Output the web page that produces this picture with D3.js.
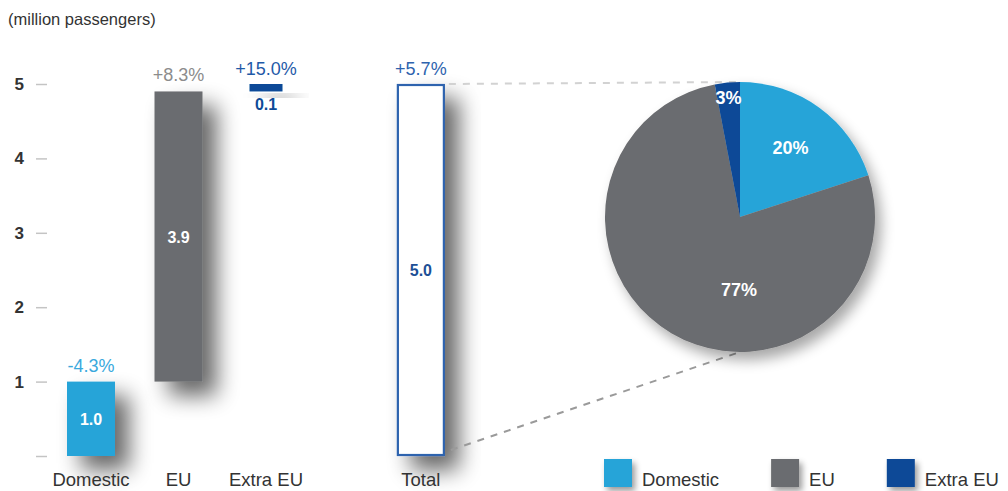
<!DOCTYPE html>
<html>
<head>
<meta charset="utf-8">
<script src="https://cdn.jsdelivr.net/npm/d3@7"></script>
<style>
  html, body { margin: 0; padding: 0; background: #fff; }
  svg { display: block; font-family: "Liberation Sans", Arial, sans-serif; }
</style>
</head>
<body>
<svg id="chart" width="1008" height="491"></svg>
<script>
// Passenger traffic by segment (million passengers)
const categories = ["Domestic", "EU", "Extra EU"];
const values = [1.0, 3.9, 0.1];
const changes = ["-4.3%", "+8.3%", "+15.0%"];
const totalLabel = "Total";
const totalValue = 5.0;
const totalChange = "+5.7%";
const shares = [20, 77, 3];
const yTicks = [0, 1, 2, 3, 4, 5];
const unitLabel = "(million passengers)";

const colors = ["#27a4d8", "#6b6c6f", "#0d4a97"];
const changeColors = ["#3aa9dd", "#8c8c8c", "#1f5aa8"];
const totalColor = "#2e63ae";

const svg = d3.select("#chart");

// soft drop shadow used by bars, pie and legend keys
const defs = svg.append("defs");
function shadow(id, dx, dy, sd, op) {
  const f = defs.append("filter").attr("id", id)
    .attr("x", "-60%").attr("y", "-60%").attr("width", "240%").attr("height", "240%");
  f.append("feGaussianBlur").attr("in", "SourceAlpha").attr("stdDeviation", sd).attr("result", "b");
  f.append("feOffset").attr("in", "b").attr("dx", dx).attr("dy", dy).attr("result", "o");
  f.append("feComponentTransfer").attr("in", "o").attr("result", "s")
    .append("feFuncA").attr("type", "linear").attr("slope", op);
  const m = f.append("feMerge");
  m.append("feMergeNode").attr("in", "s");
  m.append("feMergeNode").attr("in", "SourceGraphic");
}
shadow("barShadow", 14, 14, 11, 0.6);
shadow("pieShadow", 6, 8, 7, 0.35);
shadow("keyShadow", 3, 4, 3, 0.4);

// ---- scales ----
const y = d3.scaleLinear().domain([0, 5]).range([456, 84]);
const x = d3.scalePoint().domain(categories).range([91, 266]);
const step = x.step();
const totalX = x("Extra EU") + step * 1.77;
const barW = 48;
const thinW = 33;

// ---- unit label ----
svg.append("text").attr("x", 8).attr("y", 25)
  .attr("font-size", 16.5).attr("fill", "#333").text(unitLabel);

// ---- y axis ----
const axis = d3.axisLeft(y).tickValues(yTicks).tickSize(11).tickPadding(12)
  .tickFormat(d => d === 0 ? "" : d3.format("d")(d));
const gAxis = svg.append("g").attr("transform", "translate(47,0)").call(axis);
gAxis.select(".domain").remove();
gAxis.selectAll(".tick line").attr("stroke", "#c4c4c4").attr("stroke-width", 1.5);
gAxis.selectAll(".tick text").attr("fill", "#333").attr("font-size", 17)
  .attr("font-weight", "bold").attr("font-family", "Liberation Sans, Arial, sans-serif");

// ---- waterfall bars ----
const starts = values.map((v, i) => d3.sum(values.slice(0, i)));
const bars = categories.map((c, i) => ({
  cat: c, v: values[i], y0: starts[i], y1: starts[i] + values[i],
  color: colors[i], change: changes[i], changeColor: changeColors[i],
  w: values[i] < 0.5 ? thinW : barW
}));

svg.append("g").selectAll("rect").data(bars).join("rect")
  .attr("x", d => x(d.cat) - d.w / 2)
  .attr("y", d => y(d.y1))
  .attr("width", d => d.w)
  .attr("height", d => y(d.y0) - y(d.y1))
  .attr("fill", d => d.color)
  .attr("filter", "url(#barShadow)");

// total bar
svg.append("rect")
  .attr("x", totalX - barW / 2 + 1).attr("y", y(totalValue) + 1)
  .attr("width", barW - 2).attr("height", y(0) - y(totalValue) - 2)
  .attr("fill", "#fff").attr("stroke", totalColor).attr("stroke-width", 2.2)
  .attr("filter", "url(#barShadow)");

// value labels
svg.append("g").selectAll("text").data(bars).join("text")
  .attr("x", d => x(d.cat))
  .attr("y", d => d.w === thinW ? y(d.y0) + 19 : (y(d.y0) + y(d.y1)) / 2 + 6)
  .attr("text-anchor", "middle").attr("font-weight", "bold").attr("font-size", 16)
  .attr("fill", d => d.w === thinW ? d.color : "#fff")
  .text(d => d3.format(".1f")(d.v));

svg.append("text").attr("x", totalX).attr("y", (y(0) + y(totalValue)) / 2 + 6)
  .attr("text-anchor", "middle").attr("font-weight", "bold").attr("font-size", 16)
  .attr("fill", "#1d4f96").text(d3.format(".1f")(totalValue));

// change labels
svg.append("g").selectAll("text").data(bars).join("text")
  .attr("x", d => x(d.cat))
  .attr("y", d => y(d.y1) - (d.w === thinW ? 9 : 10))
  .attr("text-anchor", "middle").attr("font-size", 18)
  .attr("fill", d => d.changeColor).text(d => d.change);

svg.append("text").attr("x", totalX).attr("y", y(totalValue) - 9)
  .attr("text-anchor", "middle").attr("font-size", 18)
  .attr("fill", totalColor).text(totalChange);

// category labels
svg.append("g").selectAll("text").data(categories.concat([totalLabel])).join("text")
  .attr("x", d => d === totalLabel ? totalX : x(d))
  .attr("y", 486).attr("text-anchor", "middle").attr("font-size", 18.5)
  .attr("fill", "#333").text(d => d);

// ---- pie ----
const cx = 740, cy = 217, r = 135;
const pie = d3.pie().sort(null).value(d => d)(shares);
const arc = d3.arc().innerRadius(0).outerRadius(r);

// connector lines from the total bar to the pie
svg.append("line")
  .attr("x1", totalX + barW / 2 + 4).attr("y1", y(totalValue))
  .attr("x2", cx).attr("y2", cy - r)
  .attr("stroke", "#d2d2d2").attr("stroke-width", 2).attr("stroke-dasharray", "7,7");
svg.append("line")
  .attr("x1", totalX + barW / 2 + 6).attr("y1", y(0) - 6)
  .attr("x2", cx).attr("y2", cy + r)
  .attr("stroke", "#9a9a9a").attr("stroke-width", 2).attr("stroke-dasharray", "7,7");

const gPie = svg.append("g").attr("transform", `translate(${cx},${cy})`)
  .attr("filter", "url(#pieShadow)");
gPie.selectAll("path").data(pie).join("path")
  .attr("d", arc).attr("fill", (d, i) => colors[i]);

// label placement per slice: [angle offset from slice middle (rad), radius]
const labelPlace = [[0, 86], [-0.52, 72], [0, 121]];
svg.append("g").attr("transform", `translate(${cx},${cy})`)
  .selectAll("text").data(pie).join("text")
  .attr("transform", (d, i) => {
    const a = (d.startAngle + d.endAngle) / 2 + labelPlace[i][0];
    const rr = labelPlace[i][1];
    return `translate(${rr * Math.sin(a)},${-rr * Math.cos(a) + 7})`;
  })
  .attr("text-anchor", "middle").attr("font-weight", "bold").attr("font-size", 18)
  .attr("fill", "#fff").text(d => d.data + "%");

// ---- legend ----
let lx = 604;
const gLeg = svg.append("g");
categories.forEach((c, i) => {
  gLeg.append("rect").attr("x", lx).attr("y", 459).attr("width", 28).attr("height", 28)
    .attr("fill", colors[i]).attr("filter", "url(#keyShadow)");
  const t = gLeg.append("text").attr("x", lx + 38).attr("y", 486)
    .attr("font-size", 18.5).attr("fill", "#333").text(c);
  lx = lx + 38 + t.node().getComputedTextLength() + 52;
});
</script>
</body>
</html>
